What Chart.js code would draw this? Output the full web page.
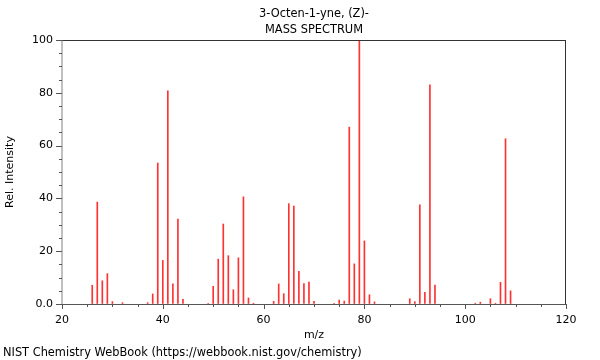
<!DOCTYPE html>
<html>
<head>
<meta charset="utf-8">
<script src="https://cdn.jsdelivr.net/npm/chart.js@4.4.1/dist/chart.umd.min.js"></script>
<style>
  html, body { margin: 0; padding: 0; background: #fff; }
  #wrap { width: 600px; height: 360px; position: relative; }
</style>
</head>
<body>
<div id="wrap"><canvas id="c" width="600" height="360"></canvas></div>
<script>
// m/z values and relative intensities
const mz = [26,27,28,29,30,32,37,38,39,40,41,42,43,44,49,50,51,52,53,54,55,56,57,58,
            62,63,64,65,66,67,68,69,70,74,75,76,77,78,79,80,81,82,89,90,91,92,93,94,
            102,103,105,106,107,108,109];
const intensity = [7.1,38.6,8.8,11.5,0.9,0.5,0.5,3.8,53.4,16.5,80.7,7.6,32.2,1.8,0.3,6.7,17.0,30.3,18.3,5.4,17.5,40.6,2.3,0.3,
            1.0,7.6,3.9,38.0,37.1,12.4,7.7,8.3,1.0,0.3,1.5,1.1,67.0,15.2,100,23.9,3.5,0.8,2.0,0.9,37.6,4.4,83.0,7.2,
            0.3,0.7,2.0,0.3,8.2,62.6,5.0];
const xTicks = [20, 40, 60, 80, 100, 120];
const yTicks = [0, 20, 40, 60, 80, 100];
const titleLines = ['3-Octen-1-yne, (Z)-', 'MASS SPECTRUM'];
const xLabel = 'm/z';
const yLabel = 'Rel. Intensity';
const footer = 'NIST Chemistry WebBook (https://webbook.nist.gov/chemistry)';

const FONT = 'DejaVu Sans';
Chart.defaults.font.family = FONT;
Chart.defaults.font.size = 11;
Chart.defaults.color = '#000';

const axesPlugin = {
  id: 'axesPlugin',
  afterDraw(chart) {
    const {ctx, chartArea: a} = chart;
    const xs = chart.scales.x, ys = chart.scales.y;
    ctx.save();
    ctx.lineWidth = 1;
    // top and right frame
    ctx.strokeStyle = '#333';
    ctx.beginPath();
    ctx.moveTo(a.left, Math.round(a.top) + 0.5);
    ctx.lineTo(a.right, Math.round(a.top) + 0.5);
    ctx.moveTo(Math.round(a.right) - 0.5, a.top);
    ctx.lineTo(Math.round(a.right) - 0.5, a.bottom);
    ctx.stroke();
    // left axis (gray)
    ctx.strokeStyle = '#808080';
    ctx.beginPath();
    ctx.moveTo(Math.round(a.left), a.top);
    ctx.lineTo(Math.round(a.left), a.bottom + 0.5);
    ctx.stroke();
    // bottom axis
    ctx.strokeStyle = '#555';
    ctx.beginPath();
    ctx.moveTo(a.left, Math.round(a.bottom) + 0.5);
    ctx.lineTo(a.right, Math.round(a.bottom) + 0.5);
    ctx.stroke();
    // y ticks (major every 20, minor every 5)
    ctx.beginPath();
    for (let v = ys.min; v <= ys.max + 1e-9; v += 5) {
      const y = Math.round(ys.getPixelForValue(v)) + 0.5;
      const len = (v % 20 === 0) ? 6 : 3;
      ctx.moveTo(a.left - len, y);
      ctx.lineTo(a.left, y);
    }
    // x ticks (major every 20, minor every 5)
    for (let v = xs.min; v <= xs.max + 1e-9; v += 5) {
      const x = Math.round(xs.getPixelForValue(v)) + 0.5;
      const len = (v % 20 === 0) ? 5 : 3;
      ctx.moveTo(x, a.bottom);
      ctx.lineTo(x, a.bottom + len);
    }
    ctx.stroke();
    ctx.restore();
  }
};

new Chart(document.getElementById('c'), {
  type: 'bar',
  data: {
    datasets: [{
      data: mz.map((m, i) => ({x: m, y: intensity[i]})),
      backgroundColor: 'rgb(255,50,50)',
      borderWidth: 0,
      barThickness: 1,
      grouped: false
    }]
  },
  options: {
    responsive: false,
    animation: false,
    layout: { padding: { left: 3, right: 34, top: 0, bottom: 0 } },
    plugins: {
      legend: { display: false },
      tooltip: { enabled: false },
      title: {
        display: true,
        text: titleLines,
        fullSize: false,
        font: { size: 11.4, weight: 'normal', lineHeight: 16 / 11.4 },
        padding: { top: 6, bottom: 2 },
        color: '#000'
      },
      subtitle: {
        display: true,
        text: footer,
        position: 'bottom',
        align: 'start',
        fullSize: true,
        font: { size: 11.4, weight: 'normal', lineHeight: 1.2 },
        padding: { top: 0, bottom: 0 },
        color: '#000'
      }
    },
    scales: {
      x: {
        type: 'linear',
        min: 20, max: 120,
        offset: false,
        afterBuildTicks: s => { s.ticks = xTicks.map(v => ({value: v})); },
        ticks: { padding: 4, maxRotation: 0, autoSkip: false, color: '#000', font: { size: 11 } },
        grid: { display: true, drawOnChartArea: false, drawTicks: true, tickLength: 6, color: 'rgba(0,0,0,0)' },
        border: { display: false },
        title: { display: true, text: xLabel, font: { size: 11 }, padding: { top: 0, bottom: 4.7 }, color: '#000' },
        afterFit: s => { s.height = 360 - 304 - 11.4 * 1.2; }
      },
      y: {
        min: 0, max: 100,
        afterBuildTicks: s => { s.ticks = yTicks.map(v => ({value: v})); },
        ticks: { padding: 3, color: '#000', font: { size: 11 },
                 callback: v => v === 0 ? '0.0' : String(v) },
        grid: { display: true, drawOnChartArea: false, drawTicks: true, tickLength: 6, color: 'rgba(0,0,0,0)' },
        border: { display: false },
        title: { display: true, text: yLabel, font: { size: 11 }, padding: { top: 0.4, bottom: 0 }, color: '#000' },
        afterFit: s => { s.width = 59; }
      }
    }
  },
  plugins: [axesPlugin]
});
</script>
</body>
</html>
